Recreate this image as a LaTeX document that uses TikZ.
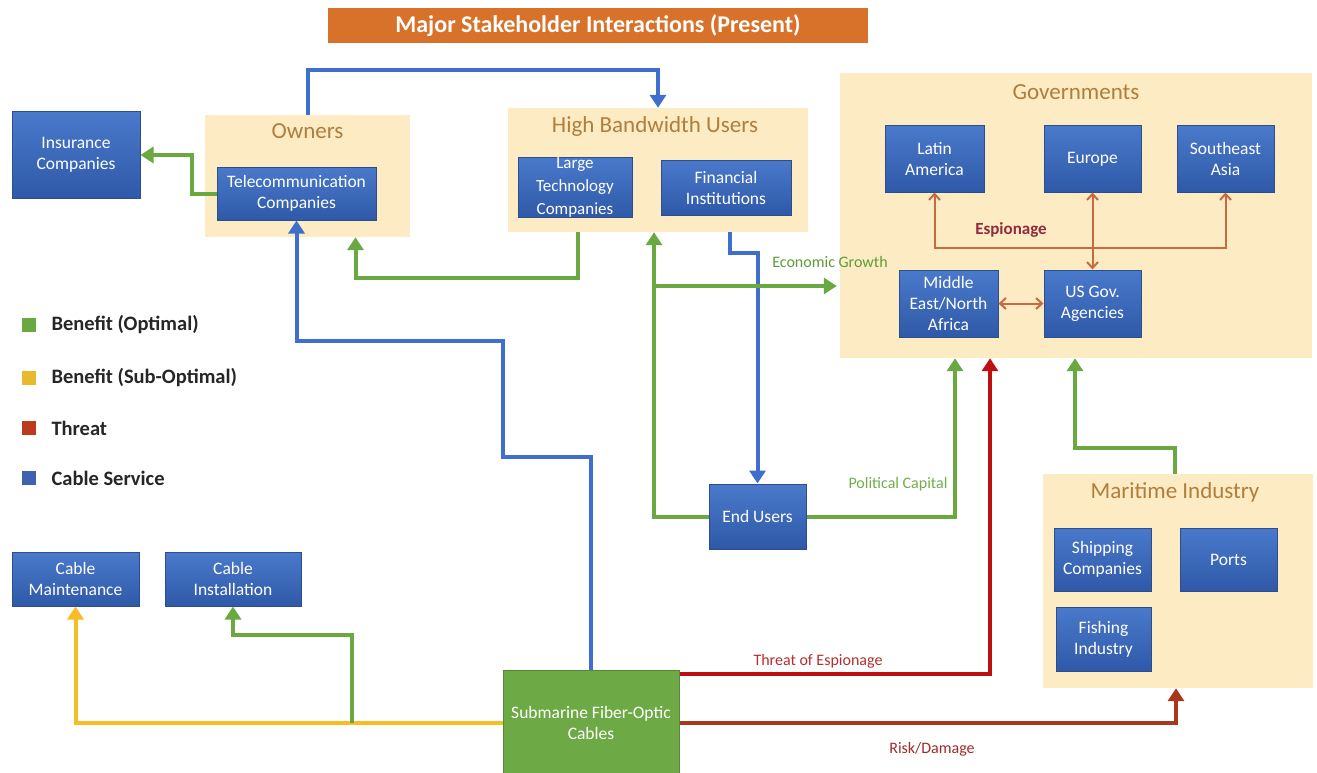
\documentclass[tikz,border=0pt]{standalone}
\usepackage{fontspec}
\setmainfont{Carlito}
\usetikzlibrary{arrows.meta}
\definecolor{bxtop}{HTML}{4A79CB}
\definecolor{bxbot}{HTML}{2F59A8}
\definecolor{bxline}{HTML}{2C4E8E}
\definecolor{grp}{HTML}{FDEBC3}
\definecolor{grptxt}{HTML}{B07E3C}
\definecolor{ttl}{HTML}{D8722A}
\definecolor{lgreen}{HTML}{6AA842}
\definecolor{lblue}{HTML}{3F6FCC}
\definecolor{lred}{HTML}{C00F12}
\definecolor{lrisk}{HTML}{A8381C}
\definecolor{lyellow}{HTML}{F8BC25}
\definecolor{lesp}{HTML}{C66A42}
\definecolor{subg}{HTML}{6DAA45}
\definecolor{esptxt}{HTML}{8E2C3C}
\definecolor{egtxt}{HTML}{5E9C3A}
\definecolor{pctxt}{HTML}{74AE4C}
\definecolor{thtxt}{HTML}{B3302E}
\definecolor{rdtxt}{HTML}{9A2E2A}
\definecolor{lgsq}{HTML}{6AA842}
\definecolor{lysq}{HTML}{E9B82C}
\definecolor{lrsq}{HTML}{BC3A1E}
\definecolor{lbsq}{HTML}{3E62B0}
\tikzset{
  bx/.style={draw=bxline, line width=1pt, top color=bxtop, bottom color=bxbot,
    text=white, align=center, inner sep=0pt, font=\fontsize{17.5}{21}\selectfont},
  grpbox/.style={fill=grp, draw=none, inner sep=0pt},
  grptitle/.style={text=grptxt, font=\fontsize{23}{26}\selectfont},
  conn/.style={line width=4pt, -{Triangle[width=16pt,length=13pt]}},
  cgreen/.style={conn, draw=lgreen},
  cblue/.style={conn, draw=lblue},
  cred/.style={conn, draw=lred},
  crisk/.style={conn, draw=lrisk},
  cyellow/.style={conn, draw=lyellow},
  esp/.style={line width=2pt, draw=lesp, {Straight Barb[length=6pt,width=11pt]}-{Straight Barb[length=6pt,width=11pt]}},
  lgsqst/.style={minimum width=14pt, minimum height=14pt, inner sep=0pt, draw=none},
  lgtxt/.style={anchor=west, font=\bfseries\fontsize{20.5}{23}\selectfont, text=black!85},
  elab/.style={font=\fontsize{16}{18}\selectfont}
}
\begin{document}
\begin{tikzpicture}[x=1pt,y=-1pt]
\useasboundingbox (0,0) rectangle (1317,773);
\fill[white] (0,0) rectangle (1317,773);
% title
\node[fill=ttl, minimum width=540pt, minimum height=35pt, inner sep=0pt, text=white,
  font=\bfseries\fontsize{24}{26}\selectfont] (title) at (598,25.5) {Major Stakeholder Interactions (Present)};
% groups
\node[grpbox, minimum width=205pt, minimum height=122pt] (owners) at (307.5,176) {};
\node[grptitle] (ownerst) at (307.5,131) {Owners};
\node[grpbox, minimum width=300pt, minimum height=124pt] (hbu) at (658,170) {};
\node[grptitle] (hbut) at (655,126) {High Bandwidth Users};
\node[grpbox, minimum width=472pt, minimum height=285pt] (gov) at (1076,215.5) {};
\node[grptitle] (govt) at (1076,92) {Governments};
\node[grpbox, minimum width=270pt, minimum height=214pt] (mar) at (1178,581) {};
\node[grptitle] (mart) at (1175,492) {Maritime Industry};
% boxes
\node[bx, minimum width=128pt, minimum height=86pt] (ins) at (76,155) {Insurance\\Companies};
\node[bx, minimum width=159pt, minimum height=53pt] (tel) at (296.5,193.5) {Telecommunication\\Companies};
\node[bx, minimum width=114pt, minimum height=55pt, font=\fontsize{17}{23}\selectfont] (ltc) at (575,187.5) {Large\\Technology\\Companies};
\node[bx, minimum width=130pt, minimum height=55pt] (fin) at (726,187.5) {Financial\\Institutions};
\node[bx, minimum width=99pt, minimum height=66pt] (lat) at (934.5,159) {Latin\\America};
\node[bx, minimum width=97pt, minimum height=66pt] (eur) at (1092.5,159) {Europe};
\node[bx, minimum width=97pt, minimum height=66pt] (sea) at (1225.5,159) {Southeast\\Asia};
\node[bx, minimum width=99pt, minimum height=67pt] (mena) at (948.5,303.5) {Middle\\East/North\\Africa};
\node[bx, minimum width=97pt, minimum height=67pt] (usg) at (1092.5,303.5) {US Gov.\\Agencies};
\node[bx, minimum width=127pt, minimum height=54pt] (cm) at (75.5,579) {Cable\\Maintenance};
\node[bx, minimum width=136pt, minimum height=54pt] (ci) at (233,579) {Cable\\Installation};
\node[bx, minimum width=97pt, minimum height=65pt] (eu) at (757.5,516.5) {End Users};
\node[bx, minimum width=97pt, minimum height=63pt] (ship) at (1102.5,559.5) {Shipping\\Companies};
\node[bx, minimum width=97pt, minimum height=63pt] (ports) at (1228.5,559.5) {Ports};
\node[bx, minimum width=95pt, minimum height=64pt] (fish) at (1103.5,639) {Fishing\\Industry};
\node[draw=subg!80!black, line width=1pt, fill=subg, text=white, align=center, inner sep=0pt,
  font=\fontsize{17.5}{21}\selectfont, minimum width=176pt, minimum height=105pt] (sub) at (591,722.5) {Submarine Fiber-Optic\\Cables};
% legend
\node[lgsqst, fill=lgsq] (sq1) at (29,325) {};
\node[lgtxt] (lg1) at (48,325) {Benefit (Optimal)};
\node[lgsqst, fill=lysq] (sq2) at (29,378) {};
\node[lgtxt] (lg2) at (48,378) {Benefit (Sub-Optimal)};
\node[lgsqst, fill=lrsq] (sq3) at (29,428) {};
\node[lgtxt] (lg3) at (48,428) {Threat};
\node[lgsqst, fill=lbsq] (sq4) at (29,478) {};
\node[lgtxt] (lg4) at (48,478) {Cable Service};
% connectors
\draw[cblue] (owners.north) -- ++(0,-45) -| (hbu.north);
\draw[cblue] (sub.north) -- ++(0,-213) -- ++(-88,0) -- ++(0,-116) -| (tel.south);
\draw[cblue] ([xshift=4pt]hbu.south -| fin.south) -- ++(0,21) -| (eu.north);
\draw[cgreen] (tel.west) -- ++(-25,0) |- (ins.east);
\draw[cgreen] (hbu.south -| ltc.south) ++(3,0) -- ++(0,46) -| ([xshift=48pt]owners.south);
\draw[cgreen] (eu.west) -| ([xshift=-4pt]hbu.south);
\coordinate (eg) at (654,286);
\draw[cgreen] (eg) -- ([xshift=-3pt]eg -| gov.west);
\draw[cgreen] (eu.east) -| ([xshift=-121pt]gov.south);
\draw[cred] ([yshift=-4pt]sub.north east) -| ([xshift=-86pt]gov.south);
\draw[crisk] (sub.east) -| ([xshift=-2pt]mar.south);
\draw[cgreen] ([xshift=-3pt]mar.north) -- ++(0,-26) -| ([xshift=-1pt]gov.south);
\draw[cyellow] (sub.west) -| (cm.south);
\coordinate (j1) at (352,722.5);
\draw[cgreen] (j1) -- ++(0,-88) -| (ci.south);
% espionage
\draw[esp] (lat.south) -- ++(0,55) -| (sea.south);
\draw[esp] (eur.south) -- (usg.north);
\draw[esp] (mena.east) -- (usg.west);
% labels
\node[font=\bfseries\fontsize{17}{19}\selectfont, text=esptxt] (espl) at (1011,230) {Espionage};
\node[elab, text=egtxt] (egl) at (830,262) {Economic Growth};
\node[elab, text=pctxt] (pcl) at (898,484) {Political Capital};
\node[elab, text=thtxt] (thl) at (818,661) {Threat of Espionage};
\node[elab, text=rdtxt] (rdl) at (932,749) {Risk/Damage};
\end{tikzpicture}
\end{document}
